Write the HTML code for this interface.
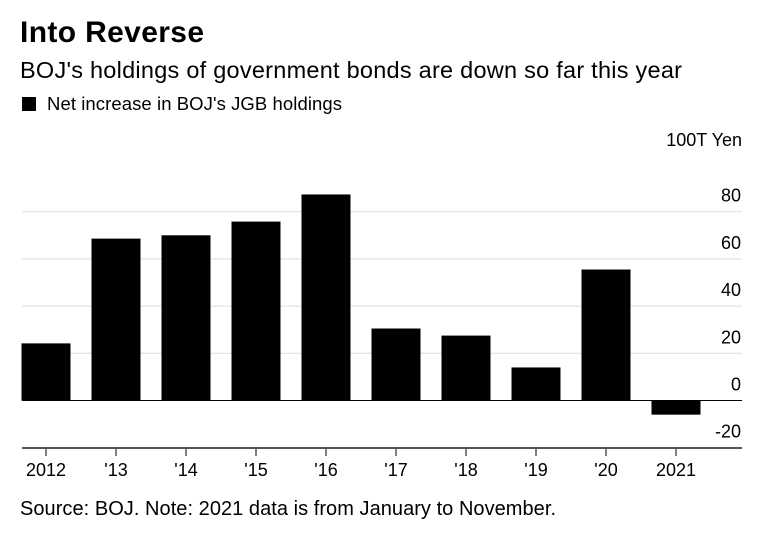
<!DOCTYPE html>
<html><head><meta charset="utf-8"><style>
body{margin:0;background:#fff;font-family:"Liberation Sans",sans-serif;}
</style></head><body>
<svg width="772" height="537" xmlns="http://www.w3.org/2000/svg" font-family="Liberation Sans, sans-serif">
<text x="20" y="42" font-size="30" font-weight="bold" fill="#000" textLength="184">Into Reverse</text>
<text x="20" y="78" font-size="23.5" fill="#000" textLength="662">BOJ's holdings of government bonds are down so far this year</text>
<rect x="22" y="97" width="14" height="14" fill="#000"/>
<text x="47" y="110" font-size="18.5" fill="#000" textLength="295">Net increase in BOJ's JGB holdings</text>
<text x="742" y="146" font-size="18" text-anchor="end" fill="#000">100T Yen</text>
<g id="grid"></g><g id="bars"></g><g id="xaxis"></g>
<text x="20" y="515" font-size="20" fill="#000" textLength="536">Source: BOJ. Note: 2021 data is from January to November.</text>
</svg>
<script>
const categories=["2012","'13","'14","'15","'16","'17","'18","'19","'20","2021"];
const values=[24.2,68.6,70,75.8,87.3,30.5,27.5,14,55.5,-6];
const yTicks=[80,60,40,20,0,-20];
const NS="http://www.w3.org/2000/svg";
const x0=22,x1=742,step=70,bw=49;
function y(v){return 400.5-v*2.36;}
function xc(i){return 46+i*step;}
function mk(t,a,p){const e=document.createElementNS(NS,t);for(const k in a)e.setAttribute(k,a[k]);p.appendChild(e);return e;}
const g=document.getElementById('grid'),b=document.getElementById('bars'),xa=document.getElementById('xaxis');
yTicks.forEach(t=>{
 const l=mk('line',{x1:x0,x2:x1,y1:y(t),y2:y(t),stroke:t===0?'#000':'#ddd','stroke-width':1},g);
 
 
 const tx=mk('text',{x:741,y:y(t)-10,'font-size':18,'text-anchor':'end',fill:'#000'},g);
 tx.textContent=t;
 
 
});
values.forEach((v,i)=>{
 const r=mk('rect',{x:xc(i)-bw/2,y:Math.min(y(v),y(0)),width:bw,height:Math.abs(y(v)-y(0)),fill:'#000'},b);
 
 
});
const ax=mk('line',{x1:x0,x2:x1,y1:448,y2:448,stroke:'#555','stroke-width':2},xa);


categories.forEach((c,i)=>{
 const tk=mk('line',{x1:xc(i),x2:xc(i),y1:448,y2:456,stroke:'#555','stroke-width':1.5},xa);
 
 
 const t=mk('text',{x:xc(i),y:476,'font-size':18,'text-anchor':'middle',fill:'#000'},xa);
 t.textContent=c;
 
 
});
</script>
</body></html>
